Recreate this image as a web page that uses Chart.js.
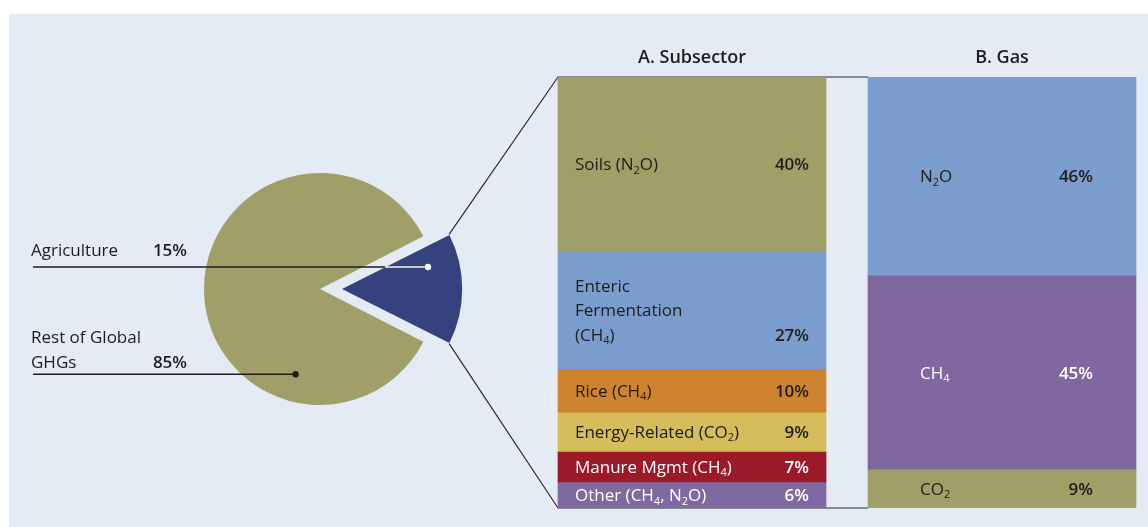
<!DOCTYPE html>
<html>
<head>
<meta charset="utf-8">
<script src="https://cdn.jsdelivr.net/npm/chart.js@4.4.1/dist/chart.umd.min.js"></script>
<style>
  html, body { margin: 0; padding: 0; background: #fff; overflow: hidden; }
  #wrap { position: relative; width: 1148px; height: 527px; overflow: hidden; }
  #panel { position: absolute; left: 9px; top: 14px; right: 0; bottom: 0; background: #e4ebf5; }
  canvas { position: absolute; left: 0; top: 0; }
</style>
</head>
<body>
<div id="wrap">
  <div id="panel"></div>
  <canvas id="pie" width="1148" height="527"></canvas>
  <canvas id="bars" width="1170" height="527"></canvas>
</div>
<script>
// data ("_2" = subscript 2)
const pieLabels = ['Agriculture', 'Rest of Global\nGHGs'];
const pieShares = [15, 85];
const panelTitles = ['A. Subsector', 'B. Gas'];
const subsectorLabels = ['Soils (N_2O)', 'Enteric\nFermentation\n(CH_4)', 'Rice (CH_4)', 'Energy-Related (CO_2)', 'Manure Mgmt (CH_4)', 'Other (CH_4, N_2O)'];
const subsectorShares = [40, 27, 10, 9, 7, 6];
const gasLabels = ['N_2O', 'CH_4', 'CO_2'];
const gasShares = [46, 45, 9];

// styles
const pieColors = ['#36427d', '#a09f68'];
const subsectorColors = ['#a09f68', '#7b9dce', '#cf832d', '#d5bd5b', '#9a1b27', '#8069a0'];
const subsectorInk = ['#1d1d1b', '#1d1d1b', '#1d1d1b', '#1d1d1b', '#ffffff', '#ffffff'];
const gasColors = ['#7b9dce', '#7f68a0', '#a09f68'];
const gasInk = ['#1d1d1b', '#ffffff', '#1d1d1b'];
const FONT = '"Open Sans", "Noto Sans", sans-serif';
const INK = '#1d1d1b';

const sum = a => a.reduce((s, v) => s + v, 0);

// draw a string where "_x" means x is a subscript
function richText(ctx, str, x, y, align, bold) {
  const parts = [];
  let buf = '';
  for (let i = 0; i < str.length; i++) {
    if (str[i] === '_') {
      if (buf) parts.push({ t: buf, sub: false });
      buf = '';
      parts.push({ t: str[i + 1], sub: true });
      i++;
    } else buf += str[i];
  }
  if (buf) parts.push({ t: buf, sub: false });
  const main = (bold ? '600 ' : '') + '17px ' + FONT;
  const small = '11px ' + FONT;
  let w = 0;
  parts.forEach(p => { ctx.font = p.sub ? small : main; p.w = ctx.measureText(p.t).width; w += p.w; });
  let cx = align === 'right' ? x - w : (align === 'center' ? x - w / 2 : x);
  ctx.textAlign = 'left';
  ctx.textBaseline = 'middle';
  y += 1.5;
  parts.forEach(p => {
    ctx.font = p.sub ? small : main;
    ctx.fillText(p.t, cx, p.sub ? y + 5 : y);
    cx += p.w;
  });
}

// ---------- bars ----------
const datasets = [];
subsectorShares.forEach((v, i) => datasets.push({
  label: subsectorLabels[i], data: [v, null], yAxisID: 'yA',
  backgroundColor: subsectorColors[i], ink: subsectorInk[i], col: 0
}));
gasShares.forEach((v, i) => datasets.push({
  label: gasLabels[i], data: [null, v], yAxisID: 'yB',
  backgroundColor: gasColors[i], ink: gasInk[i], col: 1
}));

const insets = [[17, 17], [52, 43]];
const LINE_H = 24.5;

const barText = {
  id: 'barText',
  afterDatasetsDraw(chart) {
    const ctx = chart.ctx;
    ctx.save();
    chart.data.datasets.forEach((ds, di) => {
      const el = chart.getDatasetMeta(di).data[ds.col];
      const left = el.x - el.width / 2, right = el.x + el.width / 2;
      const mid = (el.y + el.base) / 2;
      const lines = ds.label.split('\n');
      ctx.fillStyle = ds.ink;
      lines.forEach((ln, k) => {
        richText(ctx, ln, left + insets[ds.col][0], mid + (k - (lines.length - 1) / 2) * LINE_H, 'left', false);
      });
      const lastY = mid + (lines.length - 1) / 2 * LINE_H;
      richText(ctx, ds.data[ds.col] + '%', right - insets[ds.col][1], lastY, 'right', true);
    });
    // column titles
    ctx.fillStyle = INK;
    ctx.font = '600 18px ' + FONT;
    ctx.textAlign = 'center';
    ctx.textBaseline = 'middle';
    panelTitles.forEach((t, i) => {
      ctx.fillText(t, chart.scales.x.getPixelForValue(i), chart.chartArea.top - 19);
    });
    ctx.restore();
  }
};

const barChart = new Chart(document.getElementById('bars'), {
  type: 'bar',
  data: { labels: panelTitles, datasets: datasets },
  options: {
    responsive: false,
    animation: false,
    events: [],
    layout: { padding: { left: 537, right: 13, top: 77, bottom: 19 } },
    datasets: { bar: { barThickness: 268, skipNull: true, borderWidth: 0 } },
    scales: {
      x: { display: false, stacked: true },
      yA: { type: 'linear', display: false, stacked: true, reverse: true, min: 0, max: sum(subsectorShares) },
      yB: { type: 'linear', display: false, stacked: true, reverse: true, min: 0, max: sum(gasShares) }
    },
    plugins: { legend: { display: false }, tooltip: { enabled: false } }
  },
  plugins: [barText]
});

// ---------- pie ----------
const dotAt = [0.235, 0.258];      // where the leader line ends, along each slice
const dotColors = ['#ffffff', INK];
const textLift = [17, 13];

// centre and radius of a slice as Chart.js actually draws it (offset is applied /4)
function sliceGeom(arc) {
  const shift = (arc.options.offset || 0) / 4;
  const mid = (arc.startAngle + arc.endAngle) / 2;
  const fix = 1 - Math.sin(Math.min(Math.PI, arc.circumference || 0));
  return {
    cx: arc.x + shift * Math.cos(mid),
    cy: arc.y + shift * Math.sin(mid),
    R: arc.outerRadius + (shift ? shift * fix : 0)
  };
}

const pieNotes = {
  id: 'pieNotes',
  afterDraw(chart) {
    const ctx = chart.ctx;
    const arcs = chart.getDatasetMeta(0).data;
    ctx.save();
    arcs.forEach((arc, i) => {
      const g = sliceGeom(arc);
      const a = arc.startAngle + dotAt[i] * (arc.endAngle - arc.startAngle);
      const px = g.cx + Math.cos(a) * arc.outerRadius * 0.765;
      const py = g.cy + Math.sin(a) * arc.outerRadius * 0.765;
      ctx.lineWidth = 1.6;
      ctx.strokeStyle = INK;
      ctx.beginPath();
      ctx.moveTo(33, py);
      ctx.lineTo(px, py);
      ctx.stroke();
      if (i === 0) {
        // part of the leader inside the dark slice is white
        const ex = g.cx + (py - g.cy) / Math.tan(arc.startAngle);
        ctx.strokeStyle = '#ffffff';
        ctx.beginPath();
        ctx.moveTo(ex, py);
        ctx.lineTo(px, py);
        ctx.stroke();
      }
      ctx.fillStyle = dotColors[i];
      ctx.beginPath();
      ctx.arc(px, py, 3.2, 0, Math.PI * 2);
      ctx.fill();

      const lines = pieLabels[i].split('\n');
      const lastY = py - textLift[i];
      ctx.fillStyle = INK;
      lines.forEach((ln, k) => {
        richText(ctx, ln, 31, lastY - (lines.length - 1 - k) * LINE_H, 'left', false);
      });
      richText(ctx, pieShares[i] + '%', 187, lastY, 'right', true);
    });

    // connectors from the exploded slice to the subsector column, then on to the gas column
    const ag = arcs[0];
    const g = sliceGeom(ag);
    const topEl = barChart.getDatasetMeta(0).data[0];
    const botEl = barChart.getDatasetMeta(subsectorShares.length - 1).data[0];
    const gasEl = barChart.getDatasetMeta(subsectorShares.length).data[1];
    const aLeft = topEl.x - topEl.width / 2;
    const bLeft = gasEl.x - gasEl.width / 2;
    const yTop = Math.min(topEl.y, topEl.base);
    const yBot = Math.max(botEl.y, botEl.base);
    ctx.strokeStyle = '#2a2a2a';
    ctx.lineWidth = 1.2;
    ctx.beginPath();
    ctx.moveTo(g.cx + g.R * Math.cos(ag.startAngle), g.cy + g.R * Math.sin(ag.startAngle));
    ctx.lineTo(aLeft, yTop);
    ctx.lineTo(bLeft, yTop);
    ctx.moveTo(g.cx + g.R * Math.cos(ag.endAngle), g.cy + g.R * Math.sin(ag.endAngle));
    ctx.lineTo(aLeft, yBot);
    ctx.lineTo(bLeft, yBot);
    ctx.stroke();
    ctx.restore();
  }
};

new Chart(document.getElementById('pie'), {
  type: 'pie',
  data: {
    labels: pieLabels,
    datasets: [{ data: pieShares, backgroundColor: pieColors, borderWidth: 0, offset: [88, 0] }]
  },
  options: {
    responsive: false,
    animation: false,
    events: [],
    radius: 116,
    rotation: 63,
    layout: { padding: { left: 170, top: 139, right: 678, bottom: 88 } },
    plugins: { legend: { display: false }, tooltip: { enabled: false } }
  },
  plugins: [pieNotes]
});
</script>
</body>
</html>
